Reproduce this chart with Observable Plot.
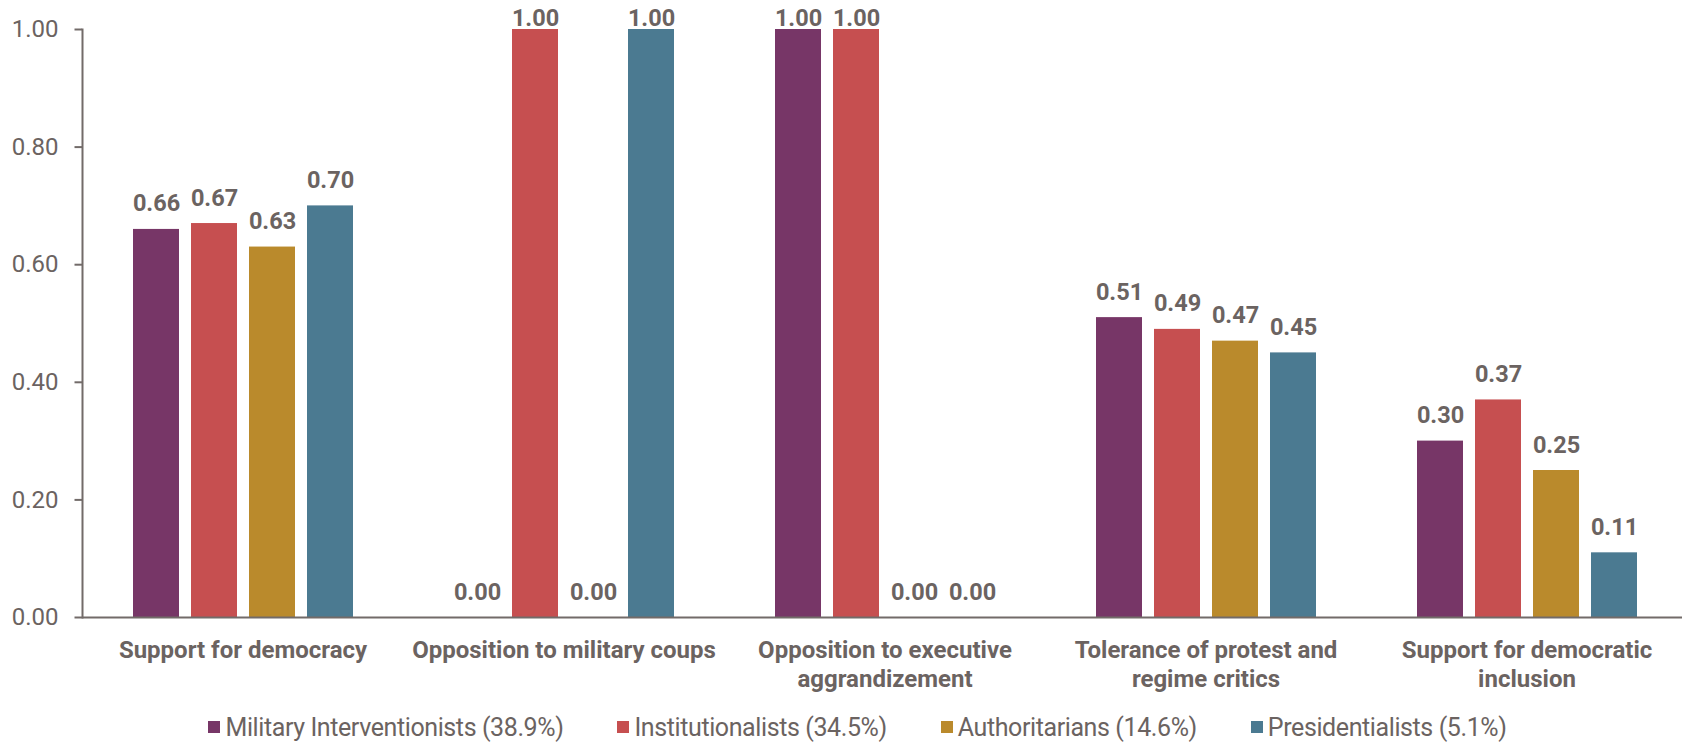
<!DOCTYPE html>
<html>
<head>
<meta charset="utf-8">
<script src="https://cdn.jsdelivr.net/npm/d3@7"></script>
<script src="https://cdn.jsdelivr.net/npm/@observablehq/plot@0.6"></script>
<style>
  body { margin: 0; background: #fff; font-family: Roboto, sans-serif; }
  #legend {
    display: flex; justify-content: center; align-items: center;
    margin-left: 33px; height: 46px; margin-top: 4px;
    font-size: 25px; letter-spacing: -0.4px; color: #6b6361;
  }
  .item { display: flex; align-items: center; margin: 0 27px; }
  .sw { width: 12px; height: 12px; margin-right: 5px; }
</style>
</head>
<body>
<div id="chart"></div>
<div id="legend"></div>
<script>
// Democratic attitude dimensions (one group of bars each)
const categories = [
  "Support for democracy",
  "Opposition to military coups",
  "Opposition to executive aggrandizement",
  "Tolerance of protest and regime critics",
  "Support for democratic inclusion"
];
// Tick labels as printed under each group
const categoryLabels = [
  "Support for democracy",
  "Opposition to military coups",
  "Opposition to executive\naggrandizement",
  "Tolerance of protest and\nregime critics",
  "Support for democratic\ninclusion"
];
// Citizen profiles (with share of respondents)
const groups = [
  "Military Interventionists (38.9%)",
  "Institutionalists (34.5%)",
  "Authoritarians (14.6%)",
  "Presidentialists (5.1%)"
];
const colors = ["#773667", "#c64f50", "#ba8a2c", "#4b7a91"];

// Mean scores per dimension, one array per profile
const militaryInterventionists = [0.66, 0.00, 1.00, 0.51, 0.30];
const institutionalists        = [0.67, 1.00, 1.00, 0.49, 0.37];
const authoritarians           = [0.63, 0.00, 0.00, 0.47, 0.25];
const presidentialists         = [0.70, 1.00, 0.00, 0.45, 0.11];

const yTicks = [0, 0.2, 0.4, 0.6, 0.8, 1.0];

const series = [militaryInterventionists, institutionalists, authoritarians, presidentialists];
const rows = categories.flatMap((c, i) =>
  groups.map((g, j) => ({category: c, group: g, value: series[j][i]}))
);

const ink = "#6b6361";
const axisInk = "#726b69";

// Value labels; those at the top of the scale sit tighter to the bar
const labelOptions = {
  fx: "category", x: "group", y: "value",
  text: d => d.value.toFixed(2),
  lineAnchor: "bottom", fontSize: 23.5, fontWeight: "bold", fill: ink
};

const chart = Plot.plot({
  width: 1682,
  height: 700,
  marginLeft: 80,
  marginRight: -6,
  marginTop: 29,
  marginBottom: 83,
  style: {fontFamily: "Roboto, sans-serif", color: ink, background: "#fff", overflow: "visible"},
  fx: {domain: categories, padding: 0, label: null},
  x: {domain: groups, paddingInner: 0.213, paddingOuter: 0.868, axis: null},
  y: {domain: [0, 1], label: null},
  color: {domain: groups, range: colors},
  marks: [
    Plot.barY(rows, {fx: "category", x: "group", y: "value", fill: "group"}),
    Plot.ruleY([0], {stroke: axisInk, strokeWidth: 2}),
    Plot.frame({anchor: "left", facetAnchor: "left", stroke: axisInk, strokeWidth: 2}),
    Plot.axisY({
      ticks: yTicks, tickFormat: ".2f", tickSize: 7.5, tickPadding: 16.5,
      fontSize: 24, stroke: axisInk, fill: ink, strokeWidth: 2, label: null
    }),
    Plot.axisFx({
      anchor: "bottom", tickSize: 0, tickPadding: 21, fontSize: 24, fontWeight: "bold",
      lineHeight: 1.17, fill: ink, label: null,
      tickFormat: c => categoryLabels[categories.indexOf(c)]
    }),
    Plot.text(rows, {...labelOptions, filter: d => d.value < 0.95, dy: -18}),
    Plot.text(rows, {...labelOptions, filter: d => d.value >= 0.95, dy: -4})
  ]
});
document.getElementById("chart").append(chart);

// Legend below the chart
const legend = d3.select("#legend");
groups.forEach((g, i) => {
  const item = legend.append("div").attr("class", "item");
  item.append("div").attr("class", "sw").style("background", colors[i]);
  item.append("span").text(g);
});
</script>
</body>
</html>
